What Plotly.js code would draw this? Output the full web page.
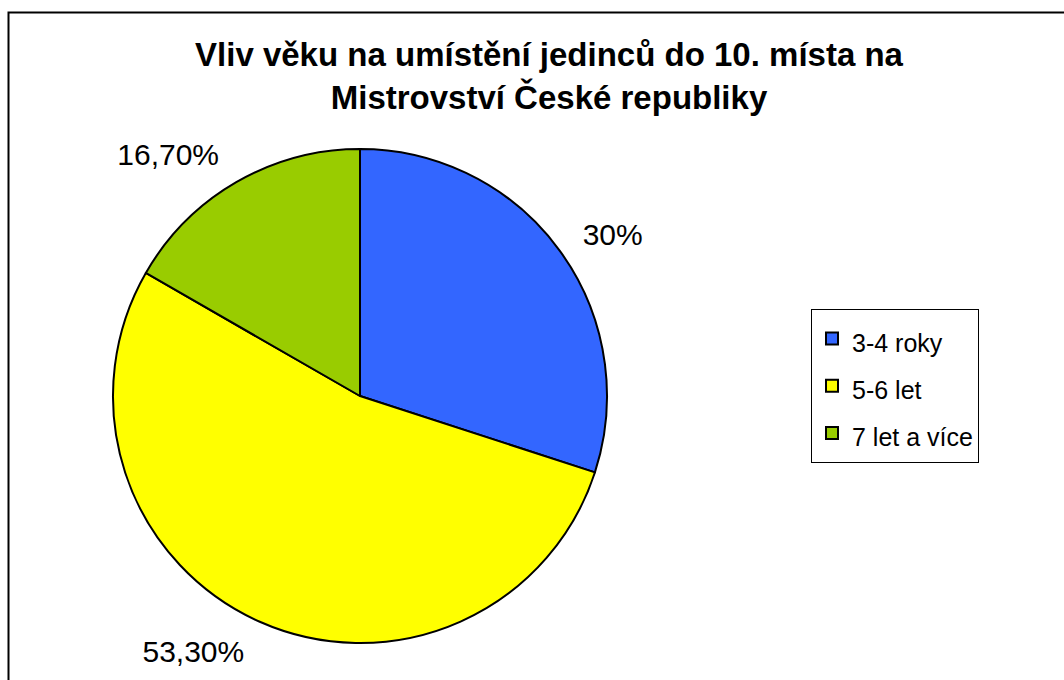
<!DOCTYPE html>
<html>
<head>
<meta charset="utf-8">
<script src="https://cdn.plot.ly/plotly-3.0.1.min.js"></script>
<style>html,body{margin:0;padding:0;background:#fff;}#chart{width:1064px;height:680px;}</style>
</head>
<body>
<div id="chart"></div>
<script>
const categories = ["3-4 roky", "5-6 let", "7 let a více"];
const values = [30, 53.3, 16.7];
const valueLabels = ["30%", "53,30%", "16,70%"];
const colors = ["#3366FF", "#FFFF00", "#99CC00"];
const titleText = "Vliv věku na umístění jedinců do 10. místa na<br>Mistrovství České republiky";

const W = 1064, H = 680;
const FONT = "Liberation Sans, Arial, sans-serif";

// legend labels: smaller visible text inside a taller legend line
const legendLabels = categories.map(c => "<span style='font-size:25px'>" + c + "</span>");

// visible pie (no text)
const pieTrace = {
  type: "pie",
  labels: legendLabels,
  values: values,
  textinfo: "none",
  sort: false,
  direction: "clockwise",
  rotation: 0,
  marker: {colors: colors, line: {color: "#000000", width: 2}},
  domain: {x: [113 / W, 607 / W], y: [37 / H, 531 / H]},
  showlegend: true
};

// transparent, slightly larger pie carrying the outside percentage labels
const R2 = 265;
const labelTrace = {
  type: "pie",
  labels: legendLabels,
  values: values,
  text: valueLabels,
  textinfo: "text",
  texttemplate: "%{text}",
  textposition: "outside",
  sort: false,
  direction: "clockwise",
  rotation: 0,
  marker: {colors: ["rgba(0,0,0,0)", "rgba(0,0,0,0)", "rgba(0,0,0,0)"], line: {width: 0}},
  outsidetextfont: {family: FONT, size: 30, color: "#000000"},
  textfont: {family: FONT, size: 30, color: "#000000"},
  domain: {x: [(360 - R2) / W, (360 + R2) / W], y: [(284 - R2) / H, (284 + R2) / H]},
  showlegend: false
};

const layout = {
  width: W,
  height: H,
  margin: {l: 0, r: 0, t: 0, b: 0},
  paper_bgcolor: "#ffffff",
  plot_bgcolor: "#ffffff",
  font: {family: FONT, color: "#000000"},
  title: {
    text: titleText,
    font: {family: FONT, size: 33, color: "#000000", weight: "bold"},
    x: 549 / W,
    xanchor: "center",
    y: 1 - 66 / H,
    yanchor: "top",
    xref: "paper",
    yref: "paper"
  },
  showlegend: true,
  legend: {
    x: 811 / W,
    y: 1 - 309 / H,
    xanchor: "left",
    yanchor: "top",
    bordercolor: "#000000",
    borderwidth: 1,
    bgcolor: "#ffffff",
    font: {family: FONT, size: 34, color: "#000000"},
    traceorder: "normal"
  },
  shapes: [{
    type: "rect",
    xref: "paper", yref: "paper",
    x0: 8.5 / W, x1: 1.02,
    y0: -0.02, y1: 1 - 12.5 / H,
    line: {color: "#000000", width: 2},
    fillcolor: "rgba(0,0,0,0)",
    layer: "below"
  }]
};

Plotly.newPlot("chart", [pieTrace, labelTrace], layout, {displayModeBar: false, staticPlot: true});
</script>
</body>
</html>
